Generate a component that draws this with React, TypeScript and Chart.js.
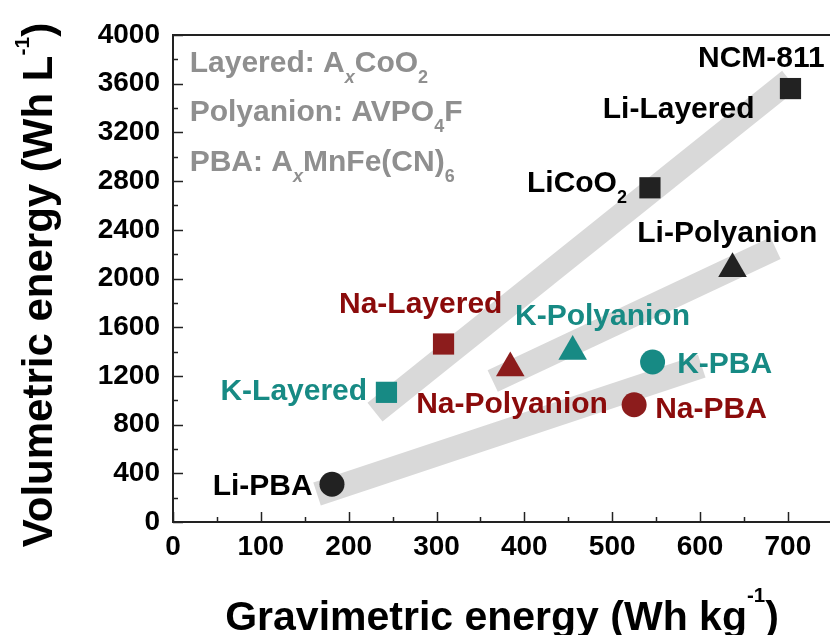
import React, { useEffect, useRef } from "react";
import { Chart, registerables } from "chart.js";

Chart.register(...registerables);

const FONT = '"Liberation Sans", Arial, sans-serif';

// axis ticks
const xTickValues = [0, 100, 200, 300, 400, 500, 600, 700];
const xMinorValues = [50, 150, 250, 350, 450, 550, 650];
const yTickValues = [0, 400, 800, 1200, 1600, 2000, 2400, 2800, 3200, 3600, 4000];
const yMinorValues = [200, 600, 1000, 1400, 1800, 2200, 2600, 3000, 3400, 3800];

// series values (Wh/kg, Wh/L)
const liLayeredX = [543, 703];
const liLayeredY = [2745, 3560];
const liPolyanionX = [637];
const liPolyanionY = [2080];
const liPbaX = [181];
const liPbaY = [310];
const naLayeredX = [308];
const naLayeredY = [1462];
const naPolyanionX = [384];
const naPolyanionY = [1265];
const naPbaX = [525];
const naPbaY = [963];
const kLayeredX = [243];
const kLayeredY = [1065];
const kPolyanionX = [455];
const kPolyanionY = [1400];
const kPbaX = [546];
const kPbaY = [1314];

// trend bands
const layeredBandX = [230, 702];
const layeredBandY = [903, 3630];
const polyanionBandX = [364, 686];
const polyanionBandY = [1158, 2250];
const pbaBandX = [164, 602];
const pbaBandY = [230, 1281];

// point labels (anchor in data units)
const pointLabels = ["NCM-811", "Li-Layered", "LiCoO|2", "Li-Polyanion", "Li-PBA", "Na-Layered", "Na-Polyanion", "Na-PBA", "K-Layered", "K-Polyanion", "K-PBA"];
const pointLabelX = [742, 662, 403, 631, 159, 282, 386, 549, 221, 489, 574];
const pointLabelY = [3737, 3318, 2710, 2300, 222, 1717, 895, 854, 1002, 1618, 1224];
const pointLabelAlign = ["right", "right", "left", "center", "right", "center", "center", "left", "right", "center", "left"];
const pointLabelGroup = ["li", "li", "li", "li", "li", "na", "na", "na", "k", "k", "k"];

// formula notes
const noteLines = ["Layered: A|x|CoO|2", "Polyanion: AVPO|4|F", "PBA: A|x|MnFe(CN)|6"];
const noteX = 19;
const noteY = [3696, 3294, 2883];

const COLORS: Record<string, string> = { li: "#000000", na: "#8b0b0b", k: "#178a84" };
const MARK: Record<string, string> = { li: "#222222", na: "#8c1c1c", k: "#178a84" };

const zip = (xs: number[], ys: number[]) => xs.map((x, i) => ({ x, y: ys[i] }));

type Seg = { t: string; kind: "n" | "sub" | "sup"; italic?: boolean };

function parseSegs(s: string): Seg[] {
  return s.split("|").map((t, i) => ({ t, kind: i % 2 === 1 ? "sub" : "n", italic: i % 2 === 1 && t === "x" }));
}

function drawRich(ctx: CanvasRenderingContext2D, x: number, y: number, segs: Seg[], align: string, color: string, size: number, supRaise = 0.68) {
  const fontOf = (s: Seg) => {
    const sz = s.kind === "n" ? size : s.kind === "sub" ? size * 0.6 : size * 0.5;
    return `${s.italic ? "italic " : ""}bold ${sz}px ${FONT}`;
  };
  let total = 0;
  const widths = segs.map((s) => {
    ctx.font = fontOf(s);
    const w = ctx.measureText(s.t).width;
    total += w;
    return w;
  });
  let cx = align === "left" ? x : align === "right" ? x - total : x - total / 2;
  ctx.fillStyle = color;
  ctx.textAlign = "left";
  ctx.textBaseline = "alphabetic";
  segs.forEach((s, i) => {
    ctx.font = fontOf(s);
    const dy = s.kind === "sub" ? size * 0.37 : s.kind === "sup" ? -size * supRaise : 0;
    ctx.fillText(s.t, cx, y + dy);
    cx += widths[i];
  });
}

const decorPlugin = {
  id: "decor",
  beforeDatasetsDraw(chart: any) {
    const { ctx, chartArea } = chart;
    ctx.save();
    ctx.strokeStyle = "#222";
    ctx.lineWidth = 2;
    ctx.beginPath();
    ctx.moveTo(chartArea.left - 1, chartArea.top);
    ctx.lineTo(chartArea.right + 2, chartArea.top);
    ctx.stroke();
    ctx.restore();
  },
  afterDraw(chart: any) {
    const { ctx, chartArea, scales } = chart;
    const xs = scales.x;
    const ys = scales.y;
    ctx.save();
    ctx.strokeStyle = "#222";
    ctx.lineWidth = 1.5;
    const tickX = (v: number, len: number) => {
      const p = Math.round(xs.getPixelForValue(v)) + 0.5;
      ctx.beginPath();
      ctx.moveTo(p, chartArea.bottom);
      ctx.lineTo(p, chartArea.bottom - len);
      ctx.stroke();
    };
    const tickY = (v: number, len: number) => {
      const p = Math.round(ys.getPixelForValue(v)) + 0.5;
      ctx.beginPath();
      ctx.moveTo(chartArea.left, p);
      ctx.lineTo(chartArea.left + len, p);
      ctx.stroke();
    };
    xTickValues.forEach((v) => tickX(v, 10));
    xMinorValues.forEach((v) => tickX(v, 5));
    yTickValues.forEach((v) => tickY(v, 10));
    yMinorValues.forEach((v) => tickY(v, 5));

    noteLines.forEach((line, i) => {
      drawRich(ctx, xs.getPixelForValue(noteX), ys.getPixelForValue(noteY[i]), parseSegs(line), "left", "#8f8f8f", 30);
    });
    pointLabels.forEach((lab, i) => {
      drawRich(
        ctx,
        xs.getPixelForValue(pointLabelX[i]),
        ys.getPixelForValue(pointLabelY[i]),
        parseSegs(lab),
        pointLabelAlign[i],
        COLORS[pointLabelGroup[i]],
        30
      );
    });

    const xTitle: Seg[] = [
      { t: "Gravimetric energy (Wh kg", kind: "n" },
      { t: "-1", kind: "sup" },
      { t: ")", kind: "n" },
    ];
    drawRich(ctx, 502, 630, xTitle, "center", "#000", 41);
    const yTitle: Seg[] = [
      { t: "Volumetric energy (Wh L", kind: "n" },
      { t: "-1", kind: "sup" },
      { t: ")", kind: "n" },
    ];
    ctx.translate(52, 285);
    ctx.rotate(-Math.PI / 2);
    drawRich(ctx, 0, 0, yTitle, "center", "#000", 42, 0.55);
    ctx.restore();
  },
};

export default function App() {
  const ref = useRef<HTMLCanvasElement | null>(null);
  useEffect(() => {
    document.body.style.margin = "0";
    const canvas = ref.current;
    if (!canvas) return;
    const band = (xs: number[], ys: number[]) => ({
      type: "scatter" as const,
      data: zip(xs, ys),
      showLine: true,
      borderColor: "#d9d9d9",
      borderWidth: 24,
      borderCapStyle: "butt" as const,
      pointRadius: 0,
      pointHoverRadius: 0,
      order: 5,
    });
    const marks = (xs: number[], ys: number[], style: string, color: string, r: number) => ({
      type: "scatter" as const,
      data: zip(xs, ys),
      pointStyle: style,
      pointRadius: r,
      pointHoverRadius: r,
      pointBackgroundColor: color,
      pointBorderColor: color,
      pointBorderWidth: 0,
      order: 1,
    });
    const chart = new Chart(canvas, {
      type: "scatter",
      data: {
        datasets: [
          band(layeredBandX, layeredBandY),
          band(polyanionBandX, polyanionBandY),
          band(pbaBandX, pbaBandY),
          marks(liLayeredX, liLayeredY, "rect", MARK.li, 15),
          marks(liPolyanionX, liPolyanionY, "triangle", MARK.li, 16.5),
          marks(liPbaX, liPbaY, "circle", MARK.li, 12.5),
          marks(naLayeredX, naLayeredY, "rect", MARK.na, 15),
          marks(naPolyanionX, naPolyanionY, "triangle", MARK.na, 16.5),
          marks(naPbaX, naPbaY, "circle", MARK.na, 12.5),
          marks(kLayeredX, kLayeredY, "rect", MARK.k, 15),
          marks(kPolyanionX, kPolyanionY, "triangle", MARK.k, 16.5),
          marks(kPbaX, kPbaY, "circle", MARK.k, 12.5),
        ] as any,
      },
      options: {
        responsive: false,
        animation: false,
        layout: { autoPadding: false, padding: { top: 35, left: 0, right: 0, bottom: 0 } },
        plugins: { legend: { display: false }, tooltip: { enabled: false } },
        scales: {
          x: {
            type: "linear",
            min: 0,
            max: 748,
            afterBuildTicks: (s: any) => {
              s.ticks = xTickValues.map((value) => ({ value }));
            },
            afterFit: (s: any) => {
              s.height = 113;
              s.paddingLeft = 0;
              s.paddingRight = 0;
            },
            grid: { display: false, drawTicks: false },
            border: { display: true, color: "#222", width: 2 },
            ticks: {
              padding: 8,
              color: "#000",
              maxRotation: 0,
              autoSkip: false,
              callback: (v: any) => String(v),
              font: { family: FONT, size: 28, weight: "bold" },
            },
          },
          y: {
            type: "linear",
            min: 0,
            max: 4000,
            afterBuildTicks: (s: any) => {
              s.ticks = yTickValues.map((value) => ({ value }));
            },
            afterFit: (s: any) => {
              s.width = 173;
              s.paddingTop = 0;
              s.paddingBottom = 0;
            },
            grid: { display: false, drawTicks: false },
            border: { display: true, color: "#222", width: 2 },
            ticks: {
              padding: 13,
              color: "#000",
              autoSkip: false,
              callback: (v: any) => String(v),
              font: { family: FONT, size: 28, weight: "bold" },
            },
          },
        },
      },
      plugins: [decorPlugin],
    });
    return () => chart.destroy();
  }, []);
  return (
    <div style={{ position: "absolute", left: 0, top: 0, width: 830, height: 635, background: "#fff" }}>
      <canvas ref={ref} width={830} height={635} style={{ display: "block" }} />
    </div>
  );
}
